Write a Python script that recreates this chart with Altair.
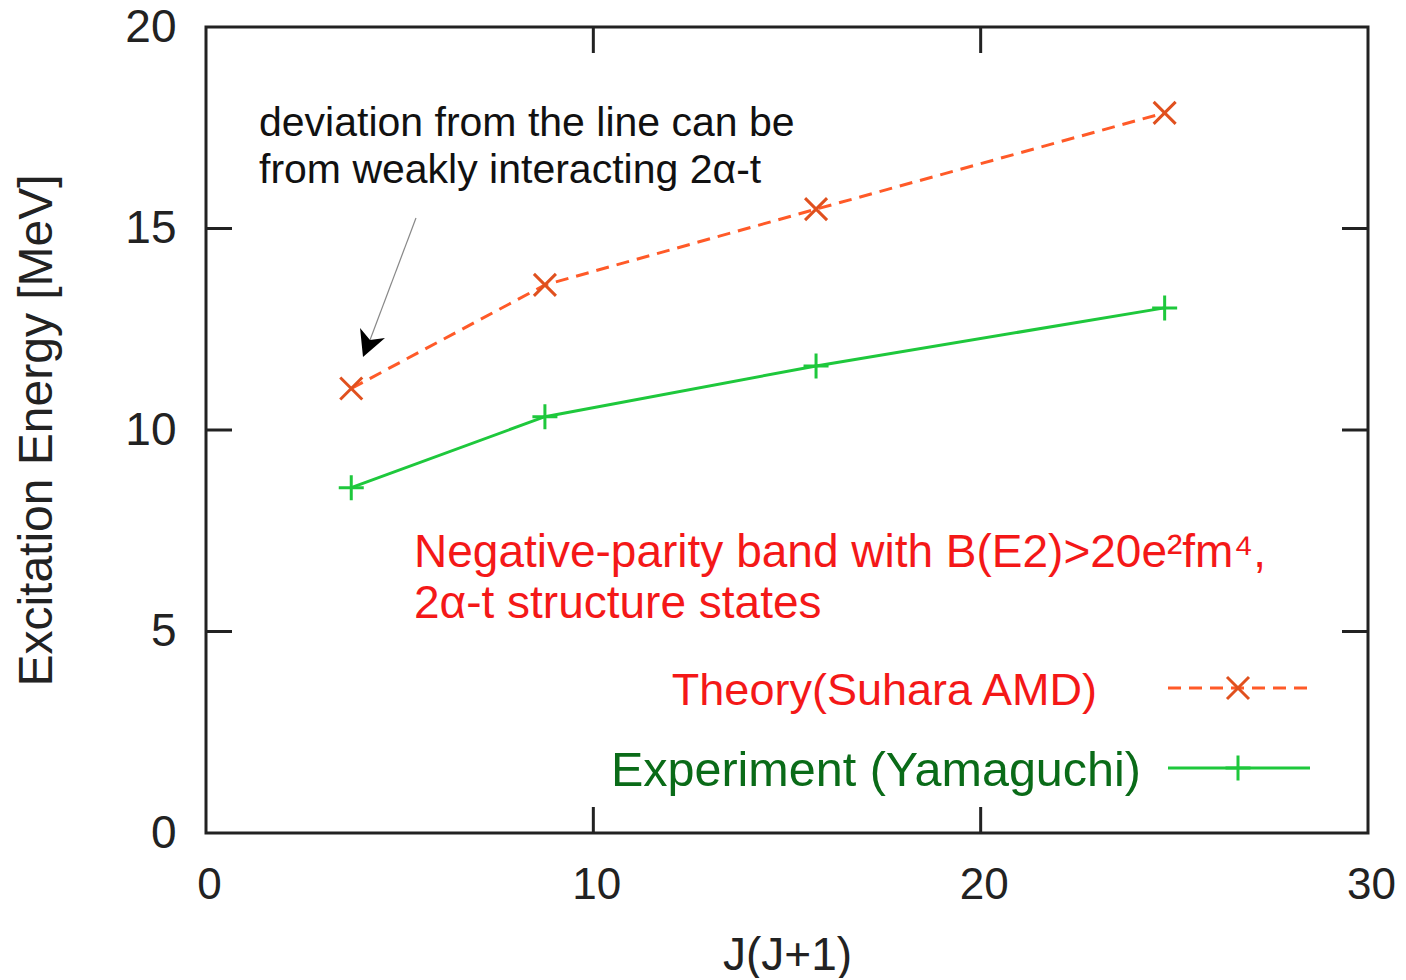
import altair as alt
import pandas as pd

# ---- data ----
jj = [3.75, 8.75, 15.75, 24.75]
theory = [11.03, 13.60, 15.48, 17.87]
experiment = [8.57, 10.33, 11.59, 13.03]
x_tick_values = [0, 10, 20, 30]
y_tick_values = [0, 5, 10, 15, 20]
x_inner_ticks = [10, 20]
y_inner_ticks = [5, 10, 15]

theory_label = "Theory(Suhara AMD)"
experiment_label = "Experiment (Yamaguchi)"
note_lines = ["deviation from the line can be", "from weakly interacting 2\u03b1-t"]
band_lines = ["Negative-parity band with B(E2)>20e\u00b2fm\u2074,", "2\u03b1-t structure states"]

df = pd.DataFrame({"jj": jj, "theory": theory, "experiment": experiment})
one = pd.DataFrame({"k": [0]})

W, H = 1162, 806
OX, OY = 206, 27  # plot origin on page
FONT = "Liberation Sans, Arial, sans-serif"
FRAME = "#222222"

THEORY_LINE = "#ff5a28"
THEORY_MARK = "#e0501e"
EXP_LINE = "#1ec83c"
RED_TEXT = "#f41818"
GREEN_TEXT = "#0a6b18"

xs = alt.Scale(domain=[0, 30], nice=False, zero=False)
ys = alt.Scale(domain=[0, 20], nice=False, zero=False)

x_axis = alt.Axis(
    values=x_tick_values, title="J(J+1)", grid=False, domain=False, ticks=False,
    labelFont=FONT, labelFontSize=44, labelColor=FRAME, labelPadding=30, labelOffset=3,
    labelFlush=False,
    titleFont=FONT, titleFontSize=46, titleFontWeight="normal", titleColor=FRAME,
    titlePadding=26)
y_axis = alt.Axis(
    values=y_tick_values, title="Excitation Energy [MeV]", grid=False, domain=False, ticks=False,
    labelFont=FONT, labelFontSize=46, labelColor=FRAME, labelPadding=30, labelFlush=False,
    titleFont=FONT, titleFontSize=48, titleFontWeight="normal", titleColor=FRAME,
    titlePadding=63)

XMARK = "M-1,-1L1,1M-1,1L1,-1"
PLUS = "M-1,0L1,0M0,-1L0,1"
ARROW = "M-0.5,1.07L-0.71,-1L0,-0.14L1.07,-0.29Z"

def px(x):
    return alt.value(x - OX)

def py(y):
    return alt.value(y - OY)

def X(f):
    return alt.X(f, scale=xs, axis=x_axis)

def Y(f):
    return alt.Y(f, scale=ys, axis=y_axis)

base = alt.Chart(df)

theory_line = base.mark_line(color=THEORY_LINE, strokeWidth=3, strokeDash=[13, 8]).encode(
    x=X("jj:Q"), y=Y("theory:Q"))
theory_pts = base.mark_point(shape=XMARK, filled=False, strokeWidth=3, size=484,
                             color=THEORY_MARK, opacity=1).encode(x=X("jj:Q"), y=Y("theory:Q"))
exp_line = base.mark_line(color=EXP_LINE, strokeWidth=3).encode(x=X("jj:Q"), y=Y("experiment:Q"))
exp_pts = base.mark_point(shape=PLUS, filled=False, strokeWidth=3, size=625,
                          color=EXP_LINE, opacity=1).encode(x=X("jj:Q"), y=Y("experiment:Q"))

# inward mirror ticks
TL = 26
xt = alt.Chart(pd.DataFrame({"t": x_inner_ticks}))
yt = alt.Chart(pd.DataFrame({"t": y_inner_ticks}))
rule = dict(color=FRAME, strokeWidth=3)
ticks = [
    xt.mark_rule(**rule).encode(x=X("t:Q"), y=alt.value(H), y2=alt.value(H - TL)),
    xt.mark_rule(**rule).encode(x=X("t:Q"), y=alt.value(0), y2=alt.value(TL)),
    yt.mark_rule(**rule).encode(y=Y("t:Q"), x=alt.value(0), x2=alt.value(TL)),
    yt.mark_rule(**rule).encode(y=Y("t:Q"), x=alt.value(W), x2=alt.value(W - TL)),
]

oc = alt.Chart(one)

def text(s, x, y, color, size, align="left"):
    return oc.mark_text(text=s, align=align, baseline="alphabetic", font=FONT,
                        fontSize=size, color=color).encode(x=px(x), y=py(y))

texts = [
    text(note_lines[0], 259, 136, "#111111", 41),
    text(note_lines[1], 259, 183, "#111111", 41),
    text(band_lines[0], 414, 567, RED_TEXT, 46),
    text(band_lines[1], 414, 618, RED_TEXT, 46),
    text(theory_label, 1097, 705, RED_TEXT, 45, align="right"),
    text(experiment_label, 1141, 786, GREEN_TEXT, 48.5, align="right"),
]

legend = [
    oc.mark_rule(color=THEORY_LINE, strokeWidth=3, strokeDash=[13, 8]).encode(
        x=px(1168), x2=px(1308), y=py(688)),
    oc.mark_point(shape=XMARK, filled=False, strokeWidth=3, size=484, color=THEORY_MARK, opacity=1).encode(
        x=px(1238), y=py(688)),
    oc.mark_rule(color=EXP_LINE, strokeWidth=3).encode(x=px(1168), x2=px(1310), y=py(768)),
    oc.mark_point(shape=PLUS, filled=False, strokeWidth=3, size=625, color=EXP_LINE, opacity=1).encode(
        x=px(1238), y=py(768)),
]

arrow = [
    oc.mark_rule(color="#888888", strokeWidth=1.2).encode(x=px(416), y=py(218), x2=px(370), y2=py(340)),
    oc.mark_point(shape=ARROW, filled=True, size=784, color="#000000", opacity=1).encode(
        x=px(370), y=py(342)),
]

chart = alt.layer(theory_line, exp_line, theory_pts, exp_pts, *ticks, *texts, *legend, *arrow).properties(
    width=W, height=H,
    background="white",
    autosize=alt.AutoSizeParams(type="none"),
    padding={"left": OX - 8, "top": OY - 8, "right": 30, "bottom": 145},
).configure_view(stroke=FRAME, strokeWidth=3)

chart.save("out.html", embed_options={"renderer": "svg", "actions": False})
